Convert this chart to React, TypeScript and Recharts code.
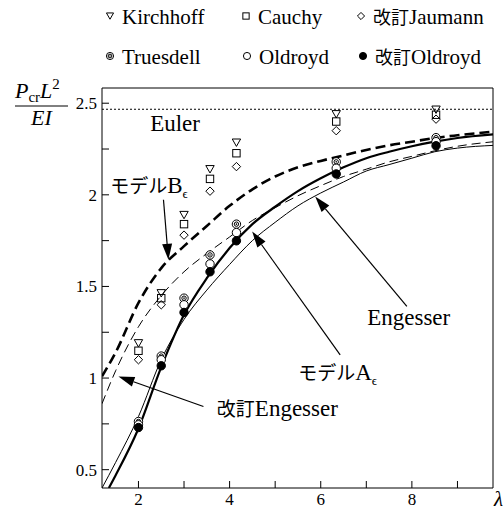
import {
  ComposedChart,
  Line,
  Scatter,
  XAxis,
  YAxis,
  ReferenceLine,
  ReferenceDot,
} from 'recharts'

// slenderness values where the FE results were computed
const lambdas = [2, 2.5, 3, 3.57, 4.15, 6.34, 8.53]
const kirchhoff = [1.19, 1.463, 1.89, 2.14, 2.285, 2.44, 2.465]
const cauchy = [1.149, 1.436, 1.84, 2.087, 2.227, 2.4, 2.437]
const jaumannRev = [1.1, 1.4, 1.78, 2.02, 2.154, 2.35, 2.413]
const truesdell = [0.763, 1.12, 1.436, 1.672, 1.84, 2.18, 2.312]
const oldroyd = [0.745, 1.1, 1.4, 1.623, 1.794, 2.145, 2.29]
const oldroydRev = [0.73, 1.067, 1.358, 1.58, 1.749, 2.114, 2.268]

// theory curves
const curveX = [1.2, 1.5, 2, 2.5, 3, 3.5, 4, 4.5, 5, 5.5, 6, 6.5, 7, 7.5, 8, 8.5, 9, 9.8]
const modelB = [1.01, 1.14, 1.41, 1.6, 1.72, 1.83, 1.94, 2.03, 2.1, 2.15, 2.185, 2.215, 2.245, 2.27, 2.29, 2.31, 2.325, 2.345]
const engesserRev = [0.86, 1.04, 1.28, 1.45, 1.58, 1.68, 1.77, 1.86, 1.93, 1.995, 2.05, 2.1, 2.14, 2.18, 2.21, 2.24, 2.265, 2.29]
const engesser = [0.4, 0.54, 0.79, 1.1, 1.32, 1.48, 1.62, 1.75, 1.85, 1.94, 2.01, 2.07, 2.13, 2.165, 2.2, 2.235, 2.255, 2.27]
const modelAX = [1.35, 1.5, 2, 2.5, 3, 3.5, 4, 4.5, 5, 5.5, 6, 6.5, 7, 7.5, 8, 8.5, 9, 9.8]
const modelA = [0.4, 0.47, 0.725, 1.06, 1.345, 1.545, 1.71, 1.84, 1.935, 2.02, 2.09, 2.15, 2.2, 2.235, 2.265, 2.29, 2.31, 2.33]

const eulerLoad = 2.467

const xTicks = [2, 3, 4, 5, 6, 7, 8, 9]
const yTicks = [0.5, 0.75, 1, 1.25, 1.5, 1.75, 2, 2.25, 2.5]

const notes = [
  { x: 2.257, y: 2.349, pre: '', main: 'Euler', sub: '' },
  { x: 1.379, y: 2.011, pre: 'モデル', main: 'B', sub: 'ϵ' },
  { x: 5.505, y: 0.991, pre: 'モデル', main: 'A', sub: 'ϵ' },
  { x: 3.72, y: 0.791, pre: '改訂', main: 'Engesser', sub: '' },
  { x: 7.019, y: 1.291, pre: '', main: 'Engesser', sub: '' },
]

// tail -> tip
const arrows = [
  [{ x: 2.549, y: 1.973 }, { x: 2.658, y: 1.645 }],
  [{ x: 3.426, y: 0.845 }, { x: 1.561, y: 1.009 }],
  [{ x: 6.426, y: 1.127 }, { x: 4.495, y: 1.8 }],
  [{ x: 7.89, y: 1.391 }, { x: 5.878, y: 1.991 }],
]

const pts = (xs: number[], ys: number[]) => xs.map((x, i) => ({ x, y: ys[i] }))

const serif = 'Liberation Serif, Times New Roman, serif'
const jp = 'Noto Sans CJK JP'

type MarkProps = { cx?: number; cy?: number; k?: number }

function TriDown({ cx = 0, cy = 0, k = 1 }: MarkProps) {
  return (
    <polygon
      points={`${cx - 4.2 * k},${cy - 3.6 * k} ${cx + 4.2 * k},${cy - 3.6 * k} ${cx},${cy + 3.8 * k}`}
      fill="none"
      stroke="#000"
      strokeWidth={1}
    />
  )
}

function Square({ cx = 0, cy = 0, k = 1 }: MarkProps) {
  return <rect x={cx - 3.7 * k} y={cy - 3.7 * k} width={7.4 * k} height={7.4 * k} fill="none" stroke="#000" strokeWidth={1} />
}

function Diamond({ cx = 0, cy = 0, k = 1 }: MarkProps) {
  const r = 4.2 * k
  return (
    <polygon
      points={`${cx},${cy - r} ${cx + r},${cy} ${cx},${cy + r} ${cx - r},${cy}`}
      fill="none"
      stroke="#000"
      strokeWidth={1}
    />
  )
}

function Bullseye({ cx = 0, cy = 0, k = 1 }: MarkProps) {
  return (
    <g>
      <circle cx={cx} cy={cy} r={4.2 * k} fill="#fff" stroke="#000" strokeWidth={1} />
      <circle cx={cx} cy={cy} r={2.2 * k} fill="none" stroke="#000" strokeWidth={1} />
      <circle cx={cx} cy={cy} r={0.8 * k} fill="#000" />
    </g>
  )
}

function Ring({ cx = 0, cy = 0, k = 1 }: MarkProps) {
  return <circle cx={cx} cy={cy} r={4.2 * k} fill="#fff" stroke="#000" strokeWidth={1} />
}

function Disc({ cx = 0, cy = 0, k = 1 }: MarkProps) {
  return <circle cx={cx} cy={cy} r={4.2 * k} fill="#000" stroke="#000" strokeWidth={1} />
}

function Arrow(p: any) {
  const { x1, y1, x2, y2 } = p
  const dx = x2 - x1
  const dy = y2 - y1
  const len = Math.sqrt(dx * dx + dy * dy)
  const ux = dx / len
  const uy = dy / len
  const L = 16
  const W = 5
  const bx = x2 - ux * L
  const by = y2 - uy * L
  return (
    <g>
      <line x1={x1} y1={y1} x2={bx} y2={by} stroke="#000" strokeWidth={1.2} />
      <polygon
        points={`${x2},${y2} ${bx - uy * W},${by + ux * W} ${bx + uy * W},${by - ux * W}`}
        fill="#000"
      />
    </g>
  )
}

function noteShape(n: (typeof notes)[number]) {
  return (p: any) => (
    <text x={p.cx} y={p.cy} fontSize={23} style={{ fontFamily: serif }} fill="#000">
      {n.pre && (
        <tspan style={{ fontFamily: jp }} fontSize={19}>
          {n.pre}
        </tspan>
      )}
      <tspan>{n.main}</tspan>
      {n.sub && (
        <tspan fontSize={13} dy={5}>
          {n.sub}
        </tspan>
      )}
    </text>
  )
}

const legendRows = [
  [
    { Icon: TriDown, x: 110, label: 'Kirchhoff', pre: '' },
    { Icon: Square, x: 246, label: 'Cauchy', pre: '' },
    { Icon: Diamond, x: 361, label: 'Jaumann', pre: '改訂' },
  ],
  [
    { Icon: Bullseye, x: 110, label: 'Truesdell', pre: '' },
    { Icon: Ring, x: 247, label: 'Oldroyd', pre: '' },
    { Icon: Disc, x: 363, label: 'Oldroyd', pre: '改訂' },
  ],
]

const tickStyle = { fill: '#000', fontSize: 17, style: { fontFamily: serif } }

export default function App() {
  return (
    <div style={{ position: 'absolute', left: 0, top: 0, width: 503, height: 510, background: '#fff' }}>
      <ComposedChart width={503} height={510} margin={{ top: 87, right: 9, bottom: 0, left: 0 }}>
        <XAxis
          dataKey="x"
          type="number"
          domain={[1.2, 9.78]}
          allowDataOverflow
          ticks={xTicks}
          tickFormatter={(v: number) => (v % 2 === 0 ? String(v) : '')}
          height={22}
          tickSize={-7}
          tickMargin={12}
          stroke="#000"
          tick={tickStyle}
        />
        <XAxis
          xAxisId="top"
          orientation="top"
          type="number"
          domain={[1.2, 9.78]}
          allowDataOverflow
          ticks={xTicks}
          height={1}
          tickSize={-7}
          tick={false}
          stroke="#000"
        />
        <YAxis
          type="number"
          domain={[0.4, 2.583]}
          allowDataOverflow
          ticks={yTicks}
          tickFormatter={(v: number) => ((v * 2) % 1 === 0 ? String(v) : '')}
          width={102}
          tickSize={-7}
          tickMargin={12}
          stroke="#000"
          tick={tickStyle}
        />
        <YAxis
          yAxisId="right"
          orientation="right"
          type="number"
          domain={[0.4, 2.583]}
          allowDataOverflow
          ticks={yTicks}
          width={1}
          tickSize={-7}
          tick={false}
          stroke="#000"
        />
        <ReferenceLine y={eulerLoad} stroke="#000" strokeWidth={1} strokeDasharray="2 2" />
        <Line
          data={pts(curveX, modelB)}
          dataKey="y"
          type="monotone"
          stroke="#000"
          strokeWidth={2.6}
          strokeDasharray="10 5"
          dot={false}
          isAnimationActive={false}
        />
        <Line
          data={pts(curveX, engesserRev)}
          dataKey="y"
          type="monotone"
          stroke="#000"
          strokeWidth={1}
          strokeDasharray="9 5"
          dot={false}
          isAnimationActive={false}
        />
        <Line
          data={pts(curveX, engesser)}
          dataKey="y"
          type="monotone"
          stroke="#000"
          strokeWidth={1}
          dot={false}
          isAnimationActive={false}
        />
        <Line
          data={pts(modelAX, modelA)}
          dataKey="y"
          type="monotone"
          stroke="#000"
          strokeWidth={2.2}
          dot={false}
          isAnimationActive={false}
        />
        <Scatter data={pts(lambdas, kirchhoff)} dataKey="y" shape={TriDown} isAnimationActive={false} />
        <Scatter data={pts(lambdas, cauchy)} dataKey="y" shape={Square} isAnimationActive={false} />
        <Scatter data={pts(lambdas, jaumannRev)} dataKey="y" shape={Diamond} isAnimationActive={false} />
        <Scatter data={pts(lambdas, truesdell)} dataKey="y" shape={Bullseye} isAnimationActive={false} />
        <Scatter data={pts(lambdas, oldroyd)} dataKey="y" shape={Ring} isAnimationActive={false} />
        <Scatter data={pts(lambdas, oldroydRev)} dataKey="y" shape={Disc} isAnimationActive={false} />
        {arrows.map((seg, i) => (
          <ReferenceLine key={'a' + i} segment={seg} shape={Arrow} />
        ))}
        {notes.map((n, i) => (
          <ReferenceDot key={'n' + i} x={n.x} y={n.y} shape={noteShape(n)} />
        ))}
      </ComposedChart>
      <svg
        width={503}
        height={510}
        style={{ position: 'absolute', left: 0, top: 0, pointerEvents: 'none', fontFamily: serif }}
      >
        {legendRows.map((row, r) =>
          row.map((it, i) => (
            <g key={r + '-' + i}>
              <it.Icon cx={it.x} cy={r === 0 ? 16 : 56} k={0.85} />
              <text x={it.x + 12} y={r === 0 ? 23.5 : 63.5} fontSize={21} fill="#000">
                {it.pre && (
                  <tspan style={{ fontFamily: jp }} fontSize={18}>
                    {it.pre}
                  </tspan>
                )}
                <tspan>{it.label}</tspan>
              </text>
            </g>
          )),
        )}
        <text x={15} y={98} fontSize={22} fill="#000">
          <tspan fontStyle="italic">P</tspan>
          <tspan fontSize={15} dy={4}>cr</tspan>
          <tspan fontStyle="italic" dy={-4}>L</tspan>
          <tspan fontSize={15} dy={-9}>2</tspan>
        </text>
        <line x1={15} x2={68} y1={106} y2={106} stroke="#000" strokeWidth={1} />
        <text x={41.5} y={125} fontSize={22} fontStyle="italic" textAnchor="middle" fill="#000">
          EI
        </text>
        <text x={494} y={506} fontSize={21} fontStyle="italic" fill="#000">
          λ
        </text>
      </svg>
    </div>
  )
}
